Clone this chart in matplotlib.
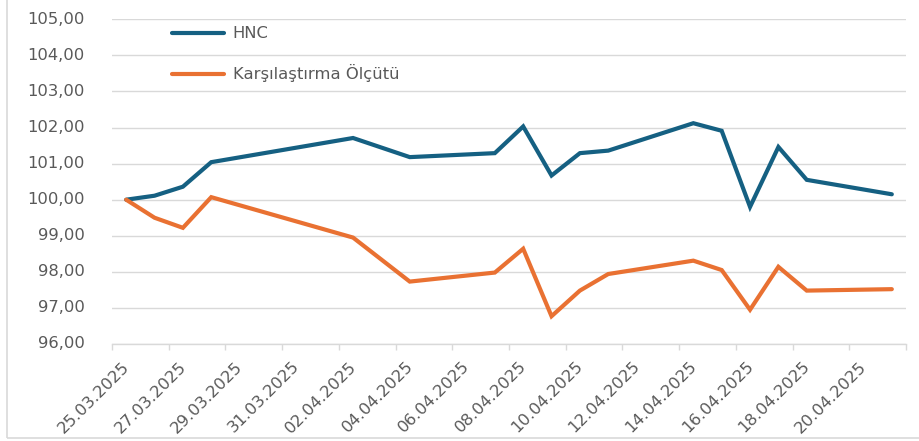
import matplotlib
matplotlib.use("Agg")
import matplotlib.pyplot as plt
from matplotlib.patches import Rectangle
import pandas as pd

# Trading days and index values (base 100 on 25.03.2025)
dates = ["25.03.2025", "26.03.2025", "27.03.2025", "28.03.2025", "02.04.2025",
         "04.04.2025", "07.04.2025", "08.04.2025", "09.04.2025", "10.04.2025",
         "11.04.2025", "14.04.2025", "15.04.2025", "16.04.2025", "17.04.2025",
         "18.04.2025", "21.04.2025"]
hnc = [100.00, 100.11, 100.36, 101.04, 101.71, 101.18, 101.29, 102.03, 100.67,
       101.29, 101.36, 102.12, 101.91, 99.80, 101.46, 100.55, 100.15]
benchmark = [100.00, 99.50, 99.22, 100.07, 98.95, 97.73, 97.98, 98.64, 96.77,
             97.48, 97.94, 98.31, 98.05, 96.95, 98.14, 97.48, 97.52]
series_names = ["HNC", "Karşılaştırma Ölçütü"]

y_ticks = [96, 97, 98, 99, 100, 101, 102, 103, 104, 105]

TEXT = "#595959"
GRID = "#D9D9D9"
BLUE = "#156082"
ORANGE = "#E97132"
FS = 11.8
PX = 0.72  # points per pixel at 100 dpi

plt.rcParams["font.family"] = ["DejaVu Sans"]

fig = plt.figure(figsize=(9.2, 4.41), dpi=100)
fig.patch.set_facecolor("white")

# chart frame
fig.add_artist(Rectangle((7.5 / 920, 1 - 438 / 441), 1.2, 1.2,
                         transform=fig.transFigure, fill=False,
                         edgecolor=GRID, linewidth=1.2))

ax = fig.add_axes([112 / 920, 1 - 344 / 441, 794 / 920, 324.7 / 441])

# each day's value sits in the middle of its date slot
x = pd.to_datetime(dates, format="%d.%m.%Y") + pd.Timedelta(hours=12)

ax.plot(x, hnc, color=BLUE, lw=3.0, solid_joinstyle="miter",
        solid_capstyle="round", label=series_names[0], zorder=3)
ax.plot(x, benchmark, color=ORANGE, lw=3.0, solid_joinstyle="miter",
        solid_capstyle="round", label=series_names[1], zorder=3)

start = pd.Timestamp("2025-03-25")
end = pd.Timestamp("2025-04-22")
ax.set_xlim(start, end)
ax.set_ylim(96, 105)

ax.set_yticks(y_ticks)
ax.set_yticklabels([])
ax.yaxis.grid(True, color=GRID, lw=1.0)
ax.set_axisbelow(True)

# value labels to the left of the plot area
for v in y_ticks:
    ax.annotate(f"{v:.2f}".replace(".", ","), xy=(0, v),
                xycoords=("axes fraction", "data"),
                xytext=(-27 * PX, 0), textcoords="offset points",
                ha="right", va="center", fontsize=FS, color=TEXT,
                annotation_clip=False)

tick_dates = pd.date_range(start, end, freq="2D")
ax.set_xticks(tick_dates)
ax.set_xticklabels([])

# rotated date labels, right end placed just below-right of each tick
for d in tick_dates:
    if d >= end:
        continue
    ax.annotate(d.strftime("%d.%m.%Y"), xy=(d, 0),
                xycoords=("data", "axes fraction"),
                xytext=(15 * PX, -20 * PX), textcoords="offset points",
                rotation=45, rotation_mode="anchor", ha="right", va="center",
                fontsize=FS, color=TEXT, annotation_clip=False)

ax.tick_params(axis="x", length=6 * PX, width=1.0, color=GRID)
ax.tick_params(axis="y", length=0)

for side in ("top", "right", "left"):
    ax.spines[side].set_visible(False)
ax.spines["bottom"].set_color(GRID)
ax.spines["bottom"].set_linewidth(1.0)

leg = ax.legend(loc="upper left", bbox_to_anchor=((172 - 112) / 794, 0.978),
                frameon=False, borderaxespad=0, borderpad=0,
                handlelength=3.15, handletextpad=0.55, labelspacing=1.4,
                fontsize=FS)
for t in leg.get_texts():
    t.set_color(TEXT)

fig.savefig("out.png", dpi=100, facecolor="white")
